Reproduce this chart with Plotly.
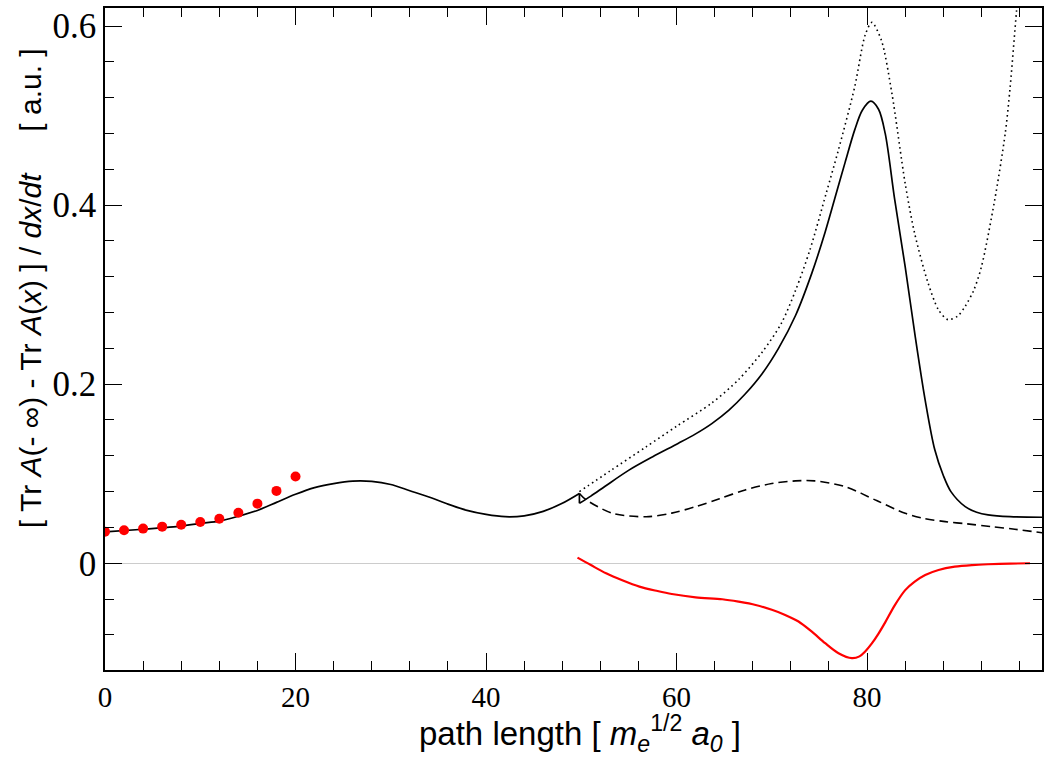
import plotly.graph_objects as go

# ---- data ----
dots_x = [0, 2, 4, 6, 8, 10, 12, 14, 16, 18, 20]
dots_y = [0.0353, 0.0369, 0.0387, 0.0409, 0.0431, 0.0461, 0.0498, 0.0565, 0.0666, 0.0808, 0.0968]

solid1_x = [0, 4, 8, 10, 12, 14, 16, 18, 20, 22, 24, 26, 28, 30, 32, 34, 36, 38, 40, 42, 44, 46, 48, 49.8]
solid1_y = [0.035, 0.038, 0.0415, 0.0445, 0.047, 0.0525, 0.059, 0.068, 0.077, 0.0845, 0.089, 0.0918, 0.0915,
            0.088, 0.081, 0.074, 0.066, 0.059, 0.0545, 0.052, 0.053, 0.058, 0.067, 0.078]

jump_x = [49.8, 49.8]
jump_y = [0.078, 0.067]

solid2_x = [49.8, 51, 52.5, 55, 57.5, 60.2, 62, 63.7, 65.5, 67.2, 69, 70.7, 72.5, 74.2, 75.6, 76.6, 77.7,
            78.7, 79.5, 80.4, 81.2, 81.9, 82.9, 84.0, 85.0, 86.1, 87.1, 88.0, 88.8, 90.3, 91.5, 92.7, 95, 98.4]
solid2_y = [0.067, 0.075, 0.086, 0.104, 0.119, 0.134, 0.1445, 0.156, 0.171, 0.189, 0.212, 0.240, 0.277,
            0.324, 0.370, 0.407, 0.448, 0.484, 0.506, 0.516, 0.507, 0.480, 0.406, 0.331, 0.257, 0.182,
            0.127, 0.098, 0.080, 0.0632, 0.057, 0.054, 0.052, 0.0514]

dotted_x = [49.8, 53, 56.8, 60, 63.7, 66.5, 69, 71, 72.5, 74, 75.7, 77, 78.7, 79.8, 80.5, 81.5, 82.6, 84.0,
            85.0, 86.4, 87.5, 88.5, 89.5, 90.3, 91.2, 92.0, 93.4, 94.5, 95.0, 95.7, 96.2]
dotted_y = [0.080, 0.103, 0.130, 0.153, 0.179, 0.205, 0.236, 0.268, 0.305, 0.350, 0.413, 0.462, 0.532,
            0.590, 0.604, 0.584, 0.525, 0.424, 0.368, 0.313, 0.283, 0.272, 0.276, 0.287, 0.305, 0.331,
            0.406, 0.480, 0.530, 0.618, 0.67]

dashed_x = [49.8, 50.5, 53.3, 56.8, 59.5, 62, 64.5, 67.2, 70, 72.5, 74.5, 77.7, 81, 84, 86, 88.2, 90.5,
            93, 95.5, 98.4]
dashed_y = [0.078, 0.071, 0.0558, 0.052, 0.056, 0.0632, 0.072, 0.0819, 0.089, 0.092, 0.092, 0.0855, 0.070,
            0.0558, 0.050, 0.0465, 0.044, 0.041, 0.038, 0.034]

red_x = [49.6, 51, 52.6, 54.3, 56.1, 58, 59.5, 62, 64.8, 66.5, 68.3, 70, 71.4, 72.8, 74.2, 75.6, 77.0, 78.4,
         79.2, 79.8, 80.5, 81.2, 81.9, 82.9, 84.0, 85.0, 86.1, 87.5, 89.2, 91, 92.7, 95, 97.1]
red_y = [0.0063, -0.002, -0.0112, -0.019, -0.0261, -0.031, -0.0343, -0.038, -0.0402, -0.0429, -0.0466,
         -0.052, -0.0577, -0.065, -0.0764, -0.0893, -0.1005, -0.106, -0.104, -0.0985, -0.0895, -0.0785,
         -0.066, -0.047, -0.030, -0.0205, -0.0131, -0.0075, -0.0038, -0.002, -0.0011, -0.0004, 0.0]

x_tickvals = [0, 20, 40, 60, 80]
y_tickvals = [0, 0.2, 0.4, 0.6]
y_ticktext = ["0", "0.2", "0.4", "0.6"]

fig = go.Figure()
fig.add_trace(go.Scatter(x=solid1_x, y=solid1_y, mode="lines",
                         line=dict(color="black", width=1.7, shape="spline", smoothing=0.8)))
fig.add_trace(go.Scatter(x=jump_x, y=jump_y, mode="lines", line=dict(color="black", width=1.7)))
fig.add_trace(go.Scatter(x=solid2_x, y=solid2_y, mode="lines",
                         line=dict(color="black", width=1.7, shape="spline", smoothing=0.9)))
fig.add_trace(go.Scatter(x=dotted_x, y=dotted_y, mode="lines",
                         line=dict(color="black", width=1.6, dash="1.6px,3.4px", shape="spline", smoothing=0.8)))
fig.add_trace(go.Scatter(x=dashed_x, y=dashed_y, mode="lines",
                         line=dict(color="black", width=1.6, dash="9px,5px", shape="spline", smoothing=0.9)))
fig.add_trace(go.Scatter(x=red_x, y=red_y, mode="lines",
                         line=dict(color="red", width=2.2, shape="spline", smoothing=0.9)))
fig.add_trace(go.Scatter(x=dots_x, y=dots_y, mode="markers",
                         marker=dict(color="red", size=10, line=dict(width=0))))

axis_common = dict(ticks="inside", showline=True, linecolor="black", linewidth=1.5, mirror="allticks",
                   tickcolor="black", tickwidth=1, ticklen=17, showgrid=False)

fig.update_layout(
    width=1045, height=761,
    margin=dict(l=105, r=1, t=8, b=91),
    paper_bgcolor="white", plot_bgcolor="white",
    showlegend=False,
    xaxis=dict(range=[0, 98.36], tickvals=x_tickvals, zeroline=False,
               tickfont=dict(family="Liberation Serif", size=29, color="black"),
               minor=dict(dtick=4, tick0=0, ticks="inside", ticklen=9, tickcolor="black", tickwidth=1),
               **axis_common),
    yaxis=dict(range=[-0.1192, 0.6201], tickvals=y_tickvals, ticktext=y_ticktext,
               zeroline=True, zerolinecolor="#cccccc", zerolinewidth=1,
               tickfont=dict(family="Liberation Serif", size=35, color="black"),
               minor=dict(dtick=0.04, tick0=0, ticks="inside", ticklen=9, tickcolor="black", tickwidth=1),
               **axis_common),
    annotations=[
        dict(text="[ Tr <i>A</i>(- ∞) - Tr <i>A</i>(<i>x</i>) ] / <i>dx</i>/<i>dt</i>     [ a.u. ]",
             textangle=-90, xref="paper", yref="paper",
             x=(30 - 105) / 939.0, y=(670 - 288) / 662.0, xanchor="center", yanchor="middle",
             showarrow=False, font=dict(family="Liberation Sans", size=30, color="black")),
        dict(text="path length [ <i>m</i><sub><i>e</i></sub><sup>1/2</sup> <i>a</i><sub><i>0</i></sub> ]",
             xref="paper", yref="paper",
             x=(581 - 105) / 939.0, y=(670 - 733) / 662.0, xanchor="center", yanchor="middle",
             showarrow=False, font=dict(family="Liberation Sans", size=33, color="black")),
    ],
)

fig.write_html("out.html")
